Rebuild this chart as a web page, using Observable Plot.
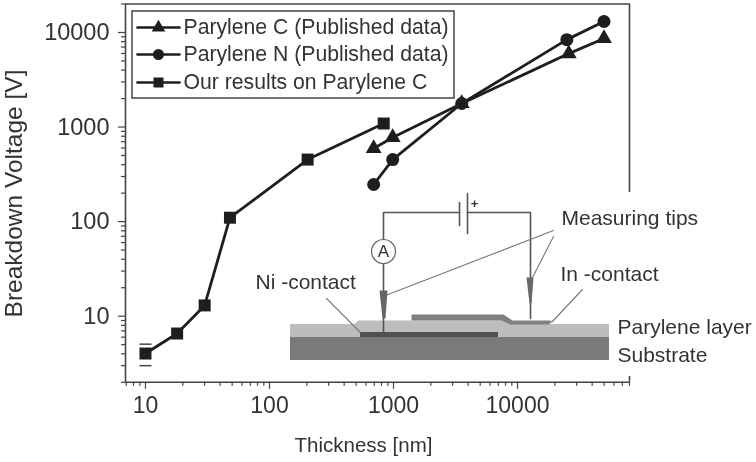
<!DOCTYPE html>
<html>
<head>
<meta charset="utf-8">
<script src="https://cdn.jsdelivr.net/npm/d3@7"></script>
<script src="https://cdn.jsdelivr.net/npm/@observablehq/plot@0.6"></script>
<style>
html,body{margin:0;padding:0;background:#fff;}
#wrap{position:relative;width:756px;height:462px;overflow:hidden;filter:blur(0.45px);}
#wrap svg{position:absolute;left:0;top:0;background:transparent;}
</style>
</head>
<body>
<div id="wrap"></div>
<script>
const parylCx = [692, 985, 3550, 25900, 49800];
const parylCy = [593, 775, 1775, 5980, 8630];
const parylNx = [692, 985, 3550, 25000, 49800];
const parylNy = [247, 453, 1775, 8400, 13060];
const oursX = [10, 18, 30, 48, 203, 834];
const oursY = [4.03, 6.56, 13, 110, 453, 1090];
const capX = [10, 10];
const capY = [5.06, 3.0];
const xMajor = [10, 100, 1000, 10000];
const yMajor = [10, 100, 1000, 10000];
const xMinor = [7,8,9,20,30,40,50,60,70,80,90,200,300,400,500,600,700,800,900,2000,3000,4000,5000,6000,7000,8000,9000,20000,30000,40000,50000,60000,70000,80000];
const yMinor = [2,3,4,5,6,7,8,9,20,30,40,50,60,70,80,90,200,300,400,500,600,700,800,900,2000,3000,4000,5000,6000,7000,8000,9000,20000];

const ink = "#1e1e1e", axisInk = "#444444", textInk = "#333333";
const font = "Liberation Sans, Arial, sans-serif";
const xDomain = [6.9, 80000], yDomain = [2, 20000];
const toTable = (xs, ys) => xs.map((x, i) => ({x, y: ys[i]}));
const barSymbol = {draw(c, size){ const r = Math.sqrt(size / Math.PI); c.moveTo(-r, 0); c.lineTo(r, 0); }};
const squareSym = {draw(c, size){ const r = Math.sqrt(size / Math.PI); c.rect(-r, -r, 2*r, 2*r); }};

const C = toTable(parylCx, parylCy), N = toTable(parylNx, parylNy), O = toTable(oursX, oursY);
const main = Plot.plot({
  width: 756, height: 462,
  marginLeft: 125, marginRight: 127, marginTop: 3.5, marginBottom: 80.2,
  style: {background: "transparent", fontFamily: font},
  x: {type: "log", domain: xDomain},
  y: {type: "log", domain: yDomain},
  marks: [
    Plot.axisX({ticks: xMinor, tickSize: 4, tickFormat: () => "", stroke: axisInk, strokeWidth: 1.2, label: null}),
    Plot.axisY({ticks: yMinor, tickSize: 4, tickFormat: () => "", stroke: axisInk, strokeWidth: 1.2, label: null}),
    Plot.axisX({ticks: xMajor, tickSize: 7, tickPadding: 7, tickFormat: d => String(d), fontSize: 23, fill: textInk, stroke: axisInk, strokeWidth: 1.2, label: null}),
    Plot.axisY({ticks: yMajor, tickSize: 7, tickPadding: 9, tickFormat: d => String(d), fontSize: 23.5, fill: textInk, stroke: axisInk, strokeWidth: 1.2, label: null}),
    Plot.ruleY([yDomain[0]], {stroke: axisInk, strokeWidth: 1.6}),
    Plot.ruleY([yDomain[1]], {stroke: axisInk, strokeWidth: 1.6}),
    Plot.ruleX([xDomain[0]], {stroke: axisInk, strokeWidth: 1.6}),
    Plot.ruleX([xDomain[1]], {stroke: axisInk, strokeWidth: 1.6}),
    Plot.line(O, {x: "x", y: "y", stroke: ink, strokeWidth: 2.8}),
    Plot.line(C, {x: "x", y: "y", stroke: ink, strokeWidth: 2.8}),
    Plot.line(N, {x: "x", y: "y", stroke: ink, strokeWidth: 2.8}),
    Plot.dot(toTable(capX, capY), {x: "x", y: "y", r: 6, symbol: barSymbol, stroke: axisInk, strokeWidth: 1.5, fill: "none"}),
    Plot.dot(O, {x: "x", y: "y", r: 6, symbol: squareSym, fill: ink, stroke: "none"}),
    Plot.dot(C, {x: "x", y: "y", r: 7.6, symbol: "triangle2", fill: ink, stroke: "none"}),
    Plot.dot(N, {x: "x", y: "y", r: 6.5, symbol: "circle", fill: ink, stroke: "none"})
  ]
});
document.getElementById("wrap").appendChild(main);

/* overlay: legend, axis titles and the measurement schematic, in page units */
const legendBox = [{x1: 132, x2: 454, y1: 11, y2: 98}];
const legendLabels = ["Parylene C (Published data)", "Parylene N (Published data)", "Our results on Parylene C"];
const legendY = [27, 54, 82];
const legendSym = ["triangle2", "circle", squareSym];
const legendR = [6.5, 5.5, 5];
const insetPaper = [{x1: 272, x2: 756, y1: 192, y2: 376}];
const layerRects = [
  {x1: 290, x2: 609, y1: 324, y2: 337, fill: "#bdbdbd"},
  {x1: 290, x2: 609, y1: 337, y2: 360, fill: "#7a7a7a"},
  {x1: 360, x2: 498, y1: 332, y2: 337, fill: "#505050"}
];
const swell = [[353,324],[358,320],[503,320],[510,324],[510,330],[353,330]];
const inContact = [[411,314],[503,314],[512,320],[551,320],[549,324],[510,324],[501,320],[411,320]];
const wires = [
  [[383,264],[383,212],[459,212]],
  [[467,212],[530,212],[530,280]],
  [[459,202],[459,225]],
  [[467,193],[467,233]],
  [[383,263],[383,292]],
  [[383,310],[383,332]],
  [[530,295],[530,318]]
];
const leaders = [
  [[385,295],[553,230]],
  [[532,277],[553,236]],
  [[326,298],[360,332]],
  [[551,322],[582,289]]
];
const tips = [
  [[379,290],[387,290],[385,318],[382,318]],
  [[526,277],[533,277],[531,303],[529,303]]
];
const schemLabels = [
  {x: 561, y: 218, t: "Measuring tips"},
  {x: 560, y: 274, t: "In -contact"},
  {x: 255, y: 282, t: "Ni -contact"},
  {x: 617, y: 327, t: "Parylene layer"},
  {x: 617, y: 355, t: "Substrate"}
];
const pathMarks = (list, opts) => list.map(p => Plot.line(p, {x: d => d[0], y: d => d[1], ...opts}));
const polyMarks = (list, opts) => list.map(p => Plot.line([...p, p[0]], {x: d => d[0], y: d => d[1], ...opts}));
const over = Plot.plot({
  width: 756, height: 462,
  margin: 0,
  style: {background: "transparent", fontFamily: font},
  x: {type: "linear", domain: [0, 756], axis: null},
  y: {type: "linear", domain: [0, 462], range: [0, 462], axis: null},
  marks: [
    Plot.rect(insetPaper, {x1: "x1", x2: "x2", y1: "y1", y2: "y2", fill: "#fff"}),
    Plot.rect(legendBox, {x1: "x1", x2: "x2", y1: "y1", y2: "y2", fill: "#fff", stroke: axisInk, strokeWidth: 1.5}),
    ...legendY.map(y => Plot.line([[137, y],[179, y]], {x: d => d[0], y: d => d[1], stroke: ink, strokeWidth: 2.6})),
    ...legendY.map((y, i) => Plot.dot([[158, y]], {x: d => d[0], y: d => d[1], r: legendR[i], symbol: legendSym[i], fill: ink})),
    Plot.text(legendLabels, {x: 183, y: (d, i) => legendY[i], text: d => d, textAnchor: "start", fontSize: 21.2, fill: textInk}),
    Plot.text(["Thickness [nm]"], {x: 363, y: 445, text: d => d, fontSize: 20.5, fill: textInk}),
    Plot.text(["Breakdown Voltage [V]"], {x: 14, y: 193, text: d => d, rotate: -90, fontSize: 24.5, fill: textInk}),
    Plot.rect(layerRects, {x1: "x1", x2: "x2", y1: "y1", y2: "y2", fill: "fill"}),
    ...polyMarks([swell], {stroke: "none", fill: "#bdbdbd"}),
    Plot.rect([layerRects[2]], {x1: "x1", x2: "x2", y1: "y1", y2: "y2", fill: "fill"}),
    ...pathMarks(wires, {stroke: "#555", strokeWidth: 1.6}),
    ...pathMarks(leaders, {stroke: "#777", strokeWidth: 1.1}),
    ...polyMarks([inContact], {stroke: "none", fill: "#808080"}),
    ...polyMarks(tips, {stroke: "none", fill: "#666"}),
    Plot.dot([[383, 251]], {x: d => d[0], y: d => d[1], r: 12, fill: "#fff", stroke: "#666", strokeWidth: 1.2}),
    Plot.text(["A"], {x: 383, y: 251, text: d => d, fontSize: 17, fill: textInk}),
    Plot.text(["+"], {x: 474, y: 203, text: d => d, fontSize: 13, fontWeight: "bold", fill: textInk}),
    Plot.text(schemLabels, {x: "x", y: "y", text: "t", textAnchor: "start", fontSize: 21, fill: textInk})
  ]
});
document.getElementById("wrap").appendChild(over);
</script>
</body>
</html>
